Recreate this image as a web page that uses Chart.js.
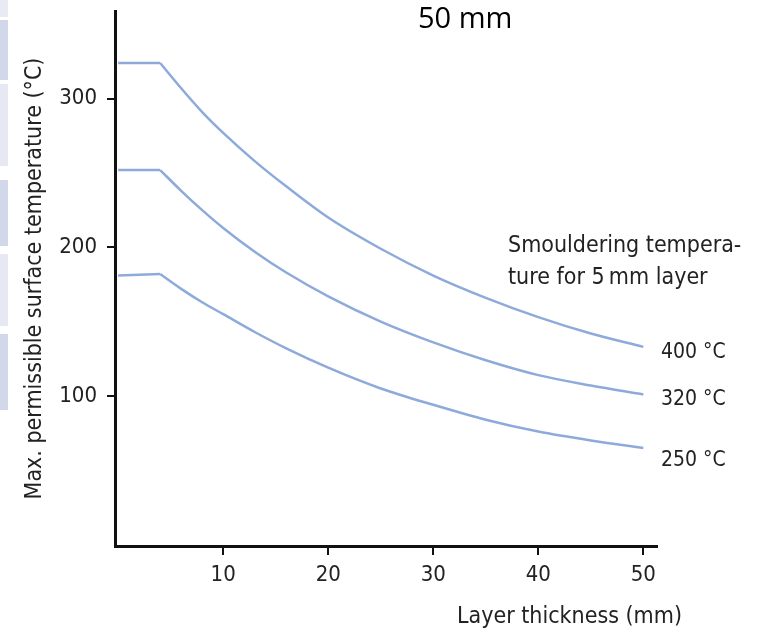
<!DOCTYPE html>
<html>
<head>
<meta charset="utf-8">
<script src="https://cdn.jsdelivr.net/npm/chart.js@4.4.1/dist/chart.umd.min.js"></script>
<style>
  body { margin: 0; background: #fff; }
  #wrap { width: 762px; height: 630px; }
</style>
</head>
<body>
<div id="wrap"><canvas id="myChart" width="762" height="630"></canvas></div>
<script>
// plateau up to 4 mm, then the falling part of each curve
const plateauX = [0, 4];
const thickness = [4, 6, 8, 10, 13, 16, 20, 25, 30, 35, 40, 45, 50];

const plateau400 = [324, 324];
const temp400 = [324, 307, 291, 277, 258, 241, 220, 199, 181, 166, 153, 142, 133];
const plateau320 = [252, 252];
const temp320 = [252, 238, 225, 213, 197, 183, 167, 150, 136, 124, 114, 107, 101];
const plateau250 = [181, 182];
const temp250 = [182, 172, 163, 155, 143, 132, 119, 105, 94, 84, 76, 70, 65];

const seriesLabels = ['400 °C', '320 °C', '250 °C'];
const xTicks = [10, 20, 30, 40, 50];
const yTicks = [100, 200, 300];

const lineColor = '#8eaadb';
const narrow = "'Liberation Sans Narrow', 'DejaVu Sans Condensed', Roboto, sans-serif";

function toPoints(xs, ys) {
  return xs.map((x, i) => ({ x: x, y: ys[i] }));
}

function lineSet(label, xs, ys, curved) {
  return {
    label: label,
    data: toPoints(xs, ys),
    borderColor: lineColor,
    borderWidth: 2.5,
    pointRadius: 0,
    fill: false,
    tension: curved ? 0.4 : 0,
    cubicInterpolationMode: curved ? 'monotone' : 'default',
  };
}

const datasets = [
  lineSet(seriesLabels[0], plateauX, plateau400, false),
  lineSet(seriesLabels[0], thickness, temp400, true),
  lineSet(seriesLabels[1], plateauX, plateau320, false),
  lineSet(seriesLabels[1], thickness, temp320, true),
  lineSet(seriesLabels[2], plateauX, plateau250, false),
  lineSet(seriesLabels[2], thickness, temp250, true),
];

// extra texts and the strip on the left edge
const decorations = {
  id: 'decorations',
  beforeDraw(chart) {
    const ctx = chart.ctx;
    ctx.save();
    const blocks = [
      [0, 17, '#e8ebf4'], [20, 80, '#d2d8ea'], [84, 166, '#e6e9f3'],
      [180, 246, '#d2d8ea'], [254, 326, '#e6e9f3'], [334, 410, '#d2d8ea'],
    ];
    blocks.forEach(b => {
      ctx.fillStyle = b[2];
      ctx.fillRect(0, b[0], 8, b[1] - b[0]);
    });
    ctx.restore();
  },
  afterDraw(chart) {
    const ctx = chart.ctx;
    ctx.save();
    ctx.fillStyle = '#222';
    ctx.textBaseline = 'middle';
    ctx.textAlign = 'left';
    ctx.font = '23px ' + narrow;
    ctx.fillText('Smouldering tempera-', 508, 246);
    ctx.fillText('ture for 5\u2009mm layer', 508, 278);
    ctx.textAlign = 'right';
    ctx.fillText('Layer thickness (mm)', 682, 617);
    ctx.textAlign = 'left';
    ctx.font = '21px ' + narrow;
    ctx.fillText(seriesLabels[0], 661, 353);
    ctx.fillText(seriesLabels[1], 661, 400);
    ctx.fillText(seriesLabels[2], 661, 461);

    ctx.fillStyle = '#000';
    ctx.font = "29px 'Open Sans', 'Noto Sans', sans-serif";
    ctx.fillText('50 mm', 418, 20);
    ctx.restore();
  },
};

const ctx = document.getElementById('myChart').getContext('2d');
const myChart = new Chart(ctx, {
  type: 'line',
  data: { datasets: datasets },
  plugins: [decorations],
  options: {
    responsive: false,
    animation: false,
    layout: { padding: { left: 10, top: 0, right: 105, bottom: 0 } },
    plugins: {
      legend: { display: false },
      tooltip: { enabled: false },
    },
    scales: {
      x: {
        type: 'linear',
        min: -0.3,
        max: 51.3,
        afterBuildTicks: scale => { scale.ticks = xTicks.map(v => ({ value: v })); },
        afterFit: scale => { scale.height = 84; },
        grid: { drawOnChartArea: false, drawTicks: true, tickLength: 9, color: '#111', lineWidth: 2 },
        border: { display: true, color: '#111', width: 3 },
        ticks: { color: '#222', padding: 7, maxRotation: 0, font: { family: narrow, size: 22 } },
      },
      y: {
        type: 'linear',
        min: -1,
        max: 359,
        afterBuildTicks: scale => { scale.ticks = yTicks.map(v => ({ value: v })); },
        afterFit: scale => {
          scale.width = 105;
          scale.paddingTop = 11;
          scale.paddingBottom = 0;
        },
        grid: { drawOnChartArea: false, drawTicks: true, tickLength: 8, color: '#111', lineWidth: 2 },
        border: { display: true, color: '#111', width: 3 },
        ticks: { color: '#222', padding: 10, font: { family: narrow, size: 22 } },
        title: {
          display: true,
          text: 'Max. permissible surface temperature (°C)',
          color: '#222',
          padding: { top: 11, bottom: 0 },
          font: { family: narrow, size: 23 },
        },
      },
    },
  },
});
</script>
</body>
</html>
